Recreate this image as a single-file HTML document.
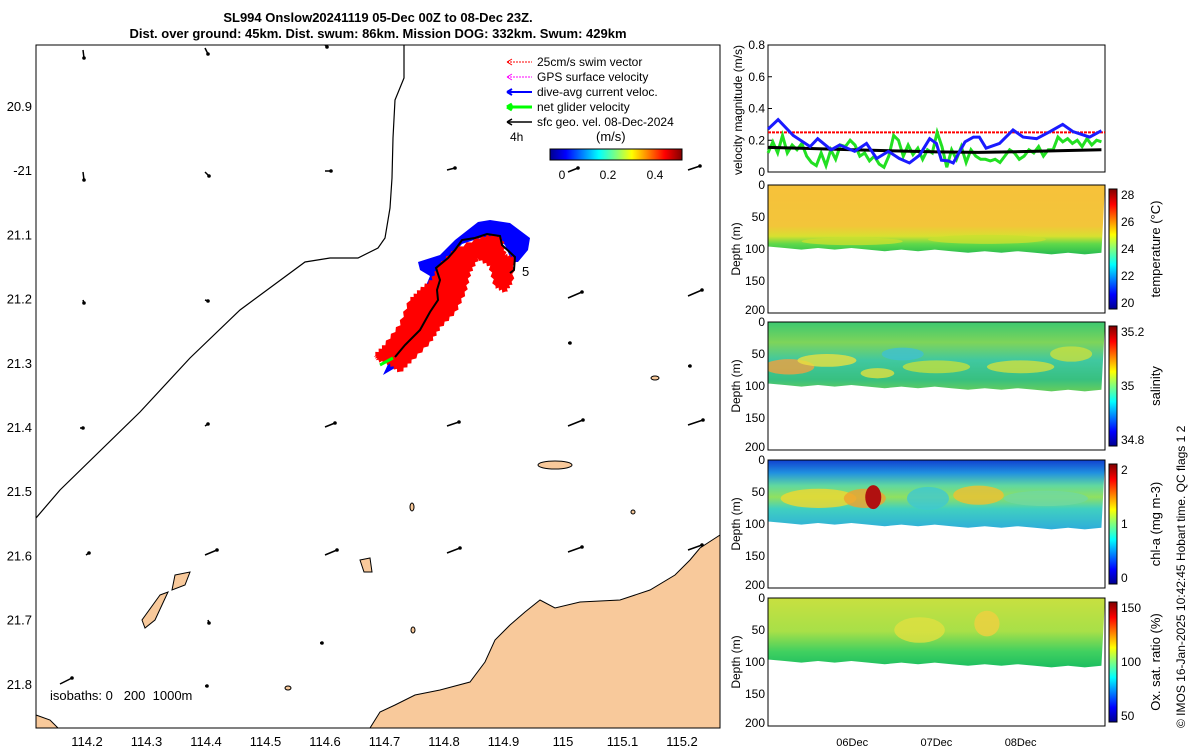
<!DOCTYPE html>
<html><head><meta charset="utf-8">
<style>
body{margin:0;background:#fff;}
svg{display:block;font-family:"Liberation Sans",sans-serif;}
</style></head>
<body>
<svg id="s" width="1200" height="750" viewBox="0 0 1200 750">
<defs>
<linearGradient id="jet" x1="0" x2="1" y1="0" y2="0">
<stop offset="0" stop-color="#00008f"/><stop offset="0.12" stop-color="#0000ff"/><stop offset="0.37" stop-color="#00ffff"/><stop offset="0.5" stop-color="#7fff7f"/><stop offset="0.62" stop-color="#ffff00"/><stop offset="0.87" stop-color="#ff0000"/><stop offset="1" stop-color="#800000"/>
</linearGradient>
<linearGradient id="jetv" x1="0" x2="0" y1="1" y2="0">
<stop offset="0" stop-color="#00008f"/><stop offset="0.12" stop-color="#0000ff"/><stop offset="0.37" stop-color="#00ffff"/><stop offset="0.5" stop-color="#7fff7f"/><stop offset="0.62" stop-color="#ffff00"/><stop offset="0.87" stop-color="#ff0000"/><stop offset="1" stop-color="#800000"/>
</linearGradient>
<linearGradient id="gT" x1="0" x2="0" y1="0" y2="1"><stop offset="0" stop-color="#f6c13a"/><stop offset="0.32" stop-color="#f3c53a"/><stop offset="0.4" stop-color="#d8e030"/><stop offset="0.46" stop-color="#5fd94a"/><stop offset="0.53" stop-color="#30c050"/></linearGradient>
<linearGradient id="gS" x1="0" x2="0" y1="0" y2="1"><stop offset="0" stop-color="#3cc870"/><stop offset="0.16" stop-color="#7ed45a"/><stop offset="0.3" stop-color="#40c8a0"/><stop offset="0.45" stop-color="#38c080"/><stop offset="0.53" stop-color="#60cc60"/></linearGradient>
<linearGradient id="gC" x1="0" x2="0" y1="0" y2="1"><stop offset="0" stop-color="#1040d0"/><stop offset="0.1" stop-color="#2090e0"/><stop offset="0.2" stop-color="#60d8a0"/><stop offset="0.29" stop-color="#90e060"/><stop offset="0.38" stop-color="#40d0c0"/><stop offset="0.53" stop-color="#30b0d8"/></linearGradient>
<linearGradient id="gO" x1="0" x2="0" y1="0" y2="1"><stop offset="0" stop-color="#c8e040"/><stop offset="0.26" stop-color="#a8e048"/><stop offset="0.42" stop-color="#40d060"/><stop offset="0.53" stop-color="#20c060"/></linearGradient>
</defs>

<text x="378" y="22" font-size="13" font-weight="bold" text-anchor="middle">SL994 Onslow20241119 05-Dec 00Z to 08-Dec 23Z.</text>
<text x="378" y="38" font-size="13" font-weight="bold" text-anchor="middle">Dist. over ground: 45km. Dist. swum: 86km. Mission DOG: 332km. Swum: 429km</text>

<g id="map">
<rect x="36" y="45" width="684" height="683" fill="#fff" stroke="#000" stroke-width="1"/>
<path d="M720,535 L700,548 L690,560 L675,575 L650,590 L620,600 L580,602 L555,608 L540,600 L525,612 L510,625 L495,640 L485,662 L470,682 L440,690 L415,695 L395,705 L380,712 L370,728 L720,728 Z" fill="#f8c99b" stroke="#000" stroke-width="1"/>
<path d="M36,715 L50,720 L58,728 L36,728 Z" fill="#f8c99b" stroke="#000"/>
<ellipse cx="555" cy="465" rx="17" ry="4" fill="#f8c99b" stroke="#000"/>
<path d="M175,575 L190,572 L185,585 L172,590 Z" fill="#f8c99b" stroke="#000"/>
<path d="M160,595 L168,592 L155,620 L145,628 L142,620 Z" fill="#f8c99b" stroke="#000"/>
<path d="M360,560 L370,558 L372,572 L364,572 Z" fill="#f8c99b" stroke="#000"/>
<ellipse cx="655" cy="378" rx="4" ry="2" fill="#f8c99b" stroke="#000"/>
<ellipse cx="412" cy="507" rx="2" ry="4" fill="#f8c99b" stroke="#000"/>
<ellipse cx="413" cy="630" rx="2" ry="3" fill="#f8c99b" stroke="#000"/>
<ellipse cx="288" cy="688" rx="3" ry="2" fill="#f8c99b" stroke="#000"/>
<ellipse cx="633" cy="512" rx="2" ry="2" fill="#f8c99b" stroke="#000"/>
<path d="M36,518 L60,490 L140,412 L190,358 L240,310 L305,262 L330,258 L358,258 L378,248 L385,238 L390,208 L392,178 L393,138 L395,100 L404,78 L404,45" fill="none" stroke="#000" stroke-width="1.2"/>
<g id="arrows"></g>
<path d="M418,262 L440,255 L455,240 L478,222 L490,220 L510,223 L530,238 L528,250 L518,262 L512,262 L505,245 L495,236 L480,238 L462,244 L448,260 L440,268 L438,290 L445,300 L440,318 L425,340 L405,362 L383,375 L390,360 L400,345 L415,330 L425,312 L428,300 L425,288 L430,276 L420,270 Z" fill="#0000ff"/>
<path id="redarea" fill="#ff0000" d=""/>
<path d="M395,357 L405,345 L420,330 L430,312 L438,300 L437,290 L440,280 L436,268 L448,258 L455,250 L462,240 L475,238 L487,234 L500,236 L502,245 L515,257 L514,270 L510,273" fill="none" stroke="#000" stroke-width="2"/>
<path d="M380,365 L393,358" stroke="#00ff00" stroke-width="3"/>
<text x="522" y="276" font-size="13">5</text>
<g id="mapticks" font-size="13"></g>
<text x="50" y="700" font-size="13">isobaths: 0 &#160; 200 &#160;1000m</text>
<g font-size="12">
<path d="M507,62 L532,62" stroke="#ff0000" stroke-dasharray="2,1"/><path d="M507,62 l5,-3 M507,62 l5,3" stroke="#ff0000"/><text x="537" y="66">25cm/s swim vector</text>
<path d="M507,77 L532,77" stroke="#ff00ff" stroke-dasharray="2,1"/><path d="M507,77 l5,-3 M507,77 l5,3" stroke="#ff00ff"/><text x="537" y="81">GPS surface velocity</text>
<path d="M507,92 L532,92" stroke="#0000ff" stroke-width="2"/><path d="M507,92 l5,-3 M507,92 l5,3" stroke="#0000ff" stroke-width="2"/><text x="537" y="96">dive-avg current veloc.</text>
<path d="M507,107 L532,107" stroke="#00ff00" stroke-width="3"/><path d="M507,107 l5,-3 M507,107 l5,3" stroke="#00ff00" stroke-width="3"/><text x="537" y="111">net glider velocity</text>
<path d="M507,122 L532,122" stroke="#000" stroke-width="1.5"/><path d="M507,122 l5,-3 M507,122 l5,3" stroke="#000" stroke-width="1.5"/><text x="537" y="126">sfc geo. vel. 08-Dec-2024</text>
<text x="510" y="141">4h</text>
<text x="596" y="141" font-size="13">(m/s)</text>
<rect x="550" y="149" width="132" height="11" fill="url(#jet)" stroke="#000"/>
<text x="562" y="179" text-anchor="middle">0</text><text x="608" y="179" text-anchor="middle">0.2</text><text x="655" y="179" text-anchor="middle">0.4</text>
</g>
</g>

<g id="right"></g>
<text x="1185" y="728" font-size="12" transform="rotate(-90 1185 728)">© IMOS 16-Jan-2025 10:42:45 Hobart time. QC flags 1 2</text>
</svg>
<script>
// ---- velocity data ----
const blueDays=[0,0.12,0.3,0.5,0.59,0.75,0.85,1.03,1.17,1.29,1.43,1.56,1.68,1.8,1.92,2.0,2.06,2.14,2.2,2.34,2.44,2.51,2.59,2.75,2.91,3.03,3.19,3.35,3.5,3.62,3.82,3.96];
const blueVals=[0.27,0.33,0.23,0.16,0.21,0.14,0.17,0.13,0.18,0.085,0.13,0.085,0.057,0.106,0.21,0.18,0.074,0.07,0.057,0.19,0.22,0.22,0.15,0.18,0.265,0.22,0.21,0.255,0.3,0.255,0.22,0.26];
const greenVals=[0.12,0.19,0.12,0.23,0.12,0.17,0.14,0.18,0.1,0.06,0.04,0.12,0.04,0.14,0.08,0.17,0.16,0.2,0.17,0.1,0.12,0.07,0.1,0.05,0.03,0.1,0.23,0.2,0.1,0.17,0.11,0.15,0.08,0.14,0.12,0.25,0.16,0.03,0.14,0.08,0.16,0.06,0.14,0.1,0.08,0.08,0.07,0.08,0.06,0.1,0.14,0.12,0.08,0.1,0.14,0.12,0.16,0.1,0.14,0.14,0.22,0.19,0.21,0.18,0.2,0.16,0.21,0.17,0.2,0.19];
const blackDays=[0,0.5,1,1.5,2,2.5,3,3.5,3.96];
const blackVals=[0.155,0.148,0.14,0.133,0.127,0.124,0.128,0.135,0.14];
const swimRef=[0.25];
const velTicks=[0,0.2,0.4,0.6,0.8];
const dayTicks=[1,2,3];
const dayLabels=["06Dec","07Dec","08Dec"];
const depthTicks=[0,50,100,150,200];
const mapLatTicks=["20.9","-21","21.1","21.2","21.3","21.4","21.5","21.6","21.7","21.8"];
const mapLonTicks=["114.2","114.3","114.4","114.5","114.6","114.7","114.8","114.9","115","115.1","115.2"];
const fieldCb=[
 {name:"temperature",label:"temperature (°C)",ticks:["28","26","24","22","20"],grad:"gT"},
 {name:"salinity",label:"salinity",ticks:["35.2","35","34.8"],grad:"gS"},
 {name:"chl-a",label:"chl-a (mg m-3)",ticks:["2","1","0"],grad:"gC"},
 {name:"oxygen",label:"Ox. sat. ratio (%)",ticks:["150","100","50"],grad:"gO"}
];
// patches: [panelIndex, day, depth, rx(days), ry(m), color]
const patches=[
 [0,1.0,88,0.6,6,"#c8e030"],[0,2.6,85,0.7,7,"#c8e030"],
 [1,0.25,70,0.3,12,"#f0a040"],[1,0.7,60,0.35,10,"#e8e040"],[1,1.3,80,0.2,8,"#e0e040"],[1,2.0,70,0.4,10,"#c0e040"],[1,3.0,70,0.4,10,"#d0e040"],[1,3.6,50,0.25,12,"#c8e040"],[1,1.6,50,0.25,10,"#40c0d0"],
 [2,0.6,60,0.45,15,"#f0d830"],[2,1.15,60,0.25,15,"#f0a030"],[2,2.5,55,0.3,15,"#f0c030"],[2,1.9,60,0.25,18,"#40c8d0"],[2,3.3,60,0.5,12,"#70d8a0"],
 [3,2.6,40,0.15,20,"#f0d040"],[3,1.8,50,0.3,20,"#e0e040"]
];
const NS="http://www.w3.org/2000/svg";
function mk(tag,attrs,parent){const e=document.createElementNS(NS,tag);for(const k in attrs)e.setAttribute(k,attrs[k]);parent.appendChild(e);return e;}
(function(){
 const base=[[375,355],[385,345],[400,325],[410,300],[420,290],[432,280],[440,265],[455,250],[480,238],[495,235],[502,240],[505,255],[514,258],[512,282],[505,292],[495,286],[490,266],[478,258],[470,272],[465,292],[455,312],[440,327],[430,342],[412,360],[400,372],[390,364],[378,360]];
 let d="";
 for(let i=0;i<base.length;i++){const a=base[i],b=base[(i+1)%base.length];
  for(let k=0;k<6;k++){const t=k/6;const x=a[0]+(b[0]-a[0])*t,y=a[1]+(b[1]-a[1])*t;
   const nx=-(b[1]-a[1]),ny=(b[0]-a[0]);const nl=Math.hypot(nx,ny)||1;const j=(k%2?2:-0.5);
   d+=(d?"L":"M")+(x-nx/nl*j).toFixed(1)+","+(y-ny/nl*j).toFixed(1);}}
 document.getElementById('redarea').setAttribute('d',d+"Z");
})();
const R=document.getElementById('right');
const X0=768,X1=1105;
const xd=d=>X0+d*84.2;
const vy=v=>172-v*158.75;
const fr=mk('rect',{x:X0,y:45,width:X1-X0,height:127,fill:'#fff',stroke:'#000'},R);


velTicks.forEach(t=>{const tx=mk('text',{x:X0-3,y:vy(t)+4,'font-size':12,'text-anchor':'end'},R);tx.textContent=t;


mk('line',{x1:X0,x2:X0+4,y1:vy(t),y2:vy(t),stroke:'#000'},R);});
const yt=mk('text',{x:742,y:110,'font-size':12,'text-anchor':'middle',transform:'rotate(-90 742 110)'},R);yt.textContent='velocity magnitude (m/s)';


const rl=mk('line',{x1:X0,x2:X1,y1:vy(swimRef[0]),y2:vy(swimRef[0]),stroke:'#ff0000','stroke-width':2,'stroke-dasharray':'3,1'},R);


let gp=greenVals.map((v,i)=>xd(i*3.96/(greenVals.length-1))+','+vy(v)).join(' ');
const gl=mk('polyline',{points:gp,fill:'none',stroke:'#22e022','stroke-width':3},R);


const kl=mk('polyline',{points:blackDays.map((d,i)=>xd(d)+','+vy(blackVals[i])).join(' '),fill:'none',stroke:'#000','stroke-width':3},R);


const bl=mk('polyline',{points:blueDays.map((d,i)=>xd(d)+','+vy(blueVals[i])).join(' '),fill:'none',stroke:'#1a1aff','stroke-width':3},R);


const tops=[185,322,460,598];
fieldCb.forEach((f,i)=>{
 const top=tops[i],h=128,dy=d=>top+d*h/200;
 const g=mk('g',{},R);
 
 
 mk('rect',{x:X0,y:top,width:X1-X0,height:h,fill:'#fff'},g);
 const cp=mk('clipPath',{id:'cp'+i},g);
 let pts=`${X0},${top} ${X1},${top}`;
 for(let k=20;k>=0;k--){const d=k*3.96/20;const bot=96+d*2.5+((k*7)%5);pts+=` ${xd(d)},${dy(bot)}`;}
 mk('polygon',{points:pts},cp);
 const fg=mk('g',{'clip-path':`url(#cp${i})`},g);
 const fp=mk('rect',{x:X0,y:top,width:X1-X0,height:h,fill:`url(#${f.grad})`},fg);
 
 
 patches.filter(p=>p[0]===i).forEach(p=>{
  const e=mk('ellipse',{cx:xd(p[1]),cy:dy(p[2]),rx:p[3]*84.2,ry:p[4]*h/200,fill:p[5],opacity:0.8},fg);
  
  
 });
 if(i===2){const b=mk('ellipse',{cx:xd(1.25),cy:dy(58),rx:8,ry:12,fill:'#b01010'},fg);
  
  }
 mk('rect',{x:X0,y:top,width:X1-X0,height:h,fill:'none',stroke:'#000'},g);
 depthTicks.forEach(t=>{const tx=mk('text',{x:X0-3,y:Math.min(dy(t)+4,top+h+1),'font-size':12,'text-anchor':'end'},g);tx.textContent=t;
 
 });
 const dt=mk('text',{x:740,y:top+64,'font-size':12,'text-anchor':'middle',transform:`rotate(-90 740 ${top+64})`},g);dt.textContent='Depth (m)';
 
 
 const cb=mk('rect',{x:1109,y:top+4,width:8,height:h-8,fill:'url(#jetv)',stroke:'#000'},g);
 
 
 f.ticks.forEach((t,j)=>{const yy=top+10+j*(h-20)/(f.ticks.length-1);const tx=mk('text',{x:1121,y:yy+4,'font-size':12},g);tx.textContent=t;
 
 });
 const lb=mk('text',{x:1160,y:top+64,'font-size':13,'text-anchor':'middle',transform:`rotate(-90 1160 ${top+64})`},g);lb.textContent=f.label;
 
 
});
dayTicks.forEach((d,i)=>{const tx=mk('text',{x:xd(d),y:746,'font-size':11,'text-anchor':'middle'},R);tx.textContent=dayLabels[i];

});
const MT=document.getElementById('mapticks');
mapLatTicks.forEach((t,i)=>{const y=107+i*64.2;const tx=mk('text',{x:32,y:y+4,'text-anchor':'end'},MT);tx.textContent=t;

});
mapLonTicks.forEach((t,i)=>{const x=87+i*59.5;const tx=mk('text',{x:x,y:746,'text-anchor':'middle'},MT);tx.textContent=t;

});
const A=document.getElementById('arrows');
const arrowList=[[83,50,1,8],[205,48,3,6],[325,45,2,2],
 [83,172,1,8],[205,172,4,4],[325,171,6,0],[447,170,8,-2],[568,172,10,-4],[688,170,12,-4],
 [83,300,1,3],[205,300,3,1],[568,298,14,-6],[688,296,14,-6],
 [568,343,2,0],[688,366,2,0],
 [80,428,3,0],[205,426,3,-2],[325,427,10,-4],[447,426,12,-4],[568,426,15,-6],[688,425,15,-5],
 [86,555,3,-2],[205,555,12,-5],[325,555,12,-5],[447,553,13,-5],[568,552,14,-5],[688,550,14,-5],
 [208,620,1,3],[320,643,2,0],
 [60,684,12,-6],[205,686,2,0]];
arrowList.forEach(a=>{
 const ln=mk('line',{x1:a[0],y1:a[1],x2:a[0]+a[2],y2:a[1]+a[3],stroke:'#000','stroke-width':1.5},A);
 
 
 const hd=mk('circle',{cx:a[0]+a[2],cy:a[1]+a[3],r:1.8,fill:'#000'},A);
 
 
});
</script>
</body></html>
